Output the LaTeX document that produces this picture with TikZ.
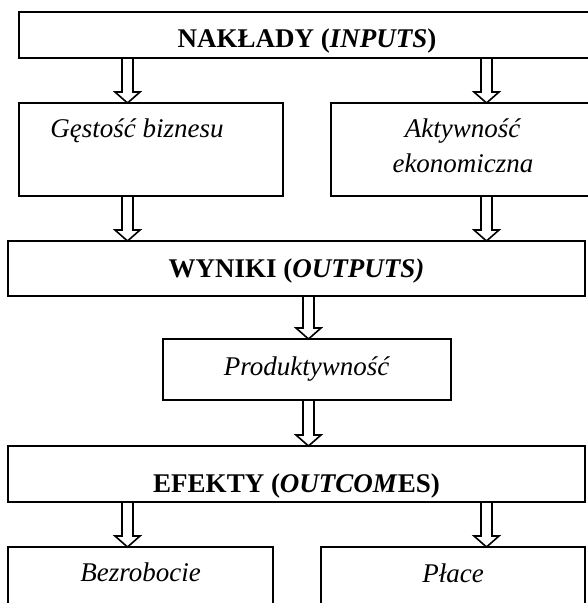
\documentclass[tikz,border=0pt]{standalone}
\usepackage{fontspec}
\setmainfont{Liberation Serif}
\usetikzlibrary{calc}
\tikzset{
  box/.style={draw, line width=1.6pt, rectangle, inner sep=0pt, outer sep=0pt},
  lbl/.style={anchor=base, inner sep=0pt, font=\fontsize{27}{32}\selectfont},
  arrowline/.style={draw, line width=1.6pt, line join=miter}
}
\newcommand{\holarr}[2]{%
  \draw[arrowline] let \p1=(#1), \p2=(#2) in
    (\x1-5.5pt,\y1) -- (\x1-5.5pt,\y2+11pt) -- (\x1-12.5pt,\y2+11pt) -- (\x1,\y2)
    -- (\x1+12.5pt,\y2+11pt) -- (\x1+5.5pt,\y2+11pt) -- (\x1+5.5pt,\y1);
}
\begin{document}
\begin{tikzpicture}[x=1pt,y=-1pt]
\useasboundingbox (0,0) rectangle (588,603);
\clip (0,0) rectangle (588,603);
\fill[white] (0,0) rectangle (588,603);
% boxes
\node[box, minimum width=576pt, minimum height=46pt] (top) at (307,35) {};
\node[box, minimum width=264pt, minimum height=93pt] (gest) at (151,149.5) {};
\node[box, minimum width=264pt, minimum height=93pt] (akt) at (463,149.5) {};
\node[box, minimum width=577pt, minimum height=55pt] (wyn) at (296.5,268.5) {};
\node[box, minimum width=288pt, minimum height=61pt] (prod) at (307,369.5) {};
\node[box, minimum width=577pt, minimum height=56pt] (efe) at (296.5,474) {};
\node[box, minimum width=265pt, minimum height=93pt] (bez) at (140.5,593.5) {};
\node[box, minimum width=264pt, minimum height=93pt] (pla) at (453,593.5) {};
% texts
\node[lbl] (ttop) at (307,47) {\textbf{NAKŁADY (\textit{INPUTS})}};
\node[lbl] (tgest) at (137,137) {\textit{Gęstość biznesu}};
\node[lbl] (takt1) at (463,137) {\textit{Aktywność}};
\node[lbl] (takt2) at (463,172) {\textit{ekonomiczna}};
\node[lbl] (twyn) at (296.5,277) {\textbf{WYNIKI (\textit{OUTPUTS)}}};
\node[lbl] (tprod) at (307,375) {\textit{Produktywność}};
\node[lbl] (tefe) at (296.5,492) {\textbf{EFEKTY (\textit{OUTCOM}ES)}};
\node[lbl] (tbez) at (140.5,581) {\textit{Bezrobocie}};
\node[lbl] (tpla) at (453,582) {\textit{Płace}};
% arrow columns
\coordinate (cL) at (127.5,0);
\coordinate (cR) at (486.5,0);
\coordinate (cM) at (308.5,0);
\holarr{top.south -| cL}{gest.north -| cL}
\holarr{top.south -| cR}{akt.north -| cR}
\holarr{gest.south -| cL}{wyn.north -| cL}
\holarr{akt.south -| cR}{wyn.north -| cR}
\holarr{wyn.south -| cM}{prod.north -| cM}
\holarr{prod.south -| cM}{efe.north -| cM}
\holarr{efe.south -| cL}{bez.north -| cL}
\holarr{efe.south -| cR}{pla.north -| cR}
\end{tikzpicture}
\end{document}
